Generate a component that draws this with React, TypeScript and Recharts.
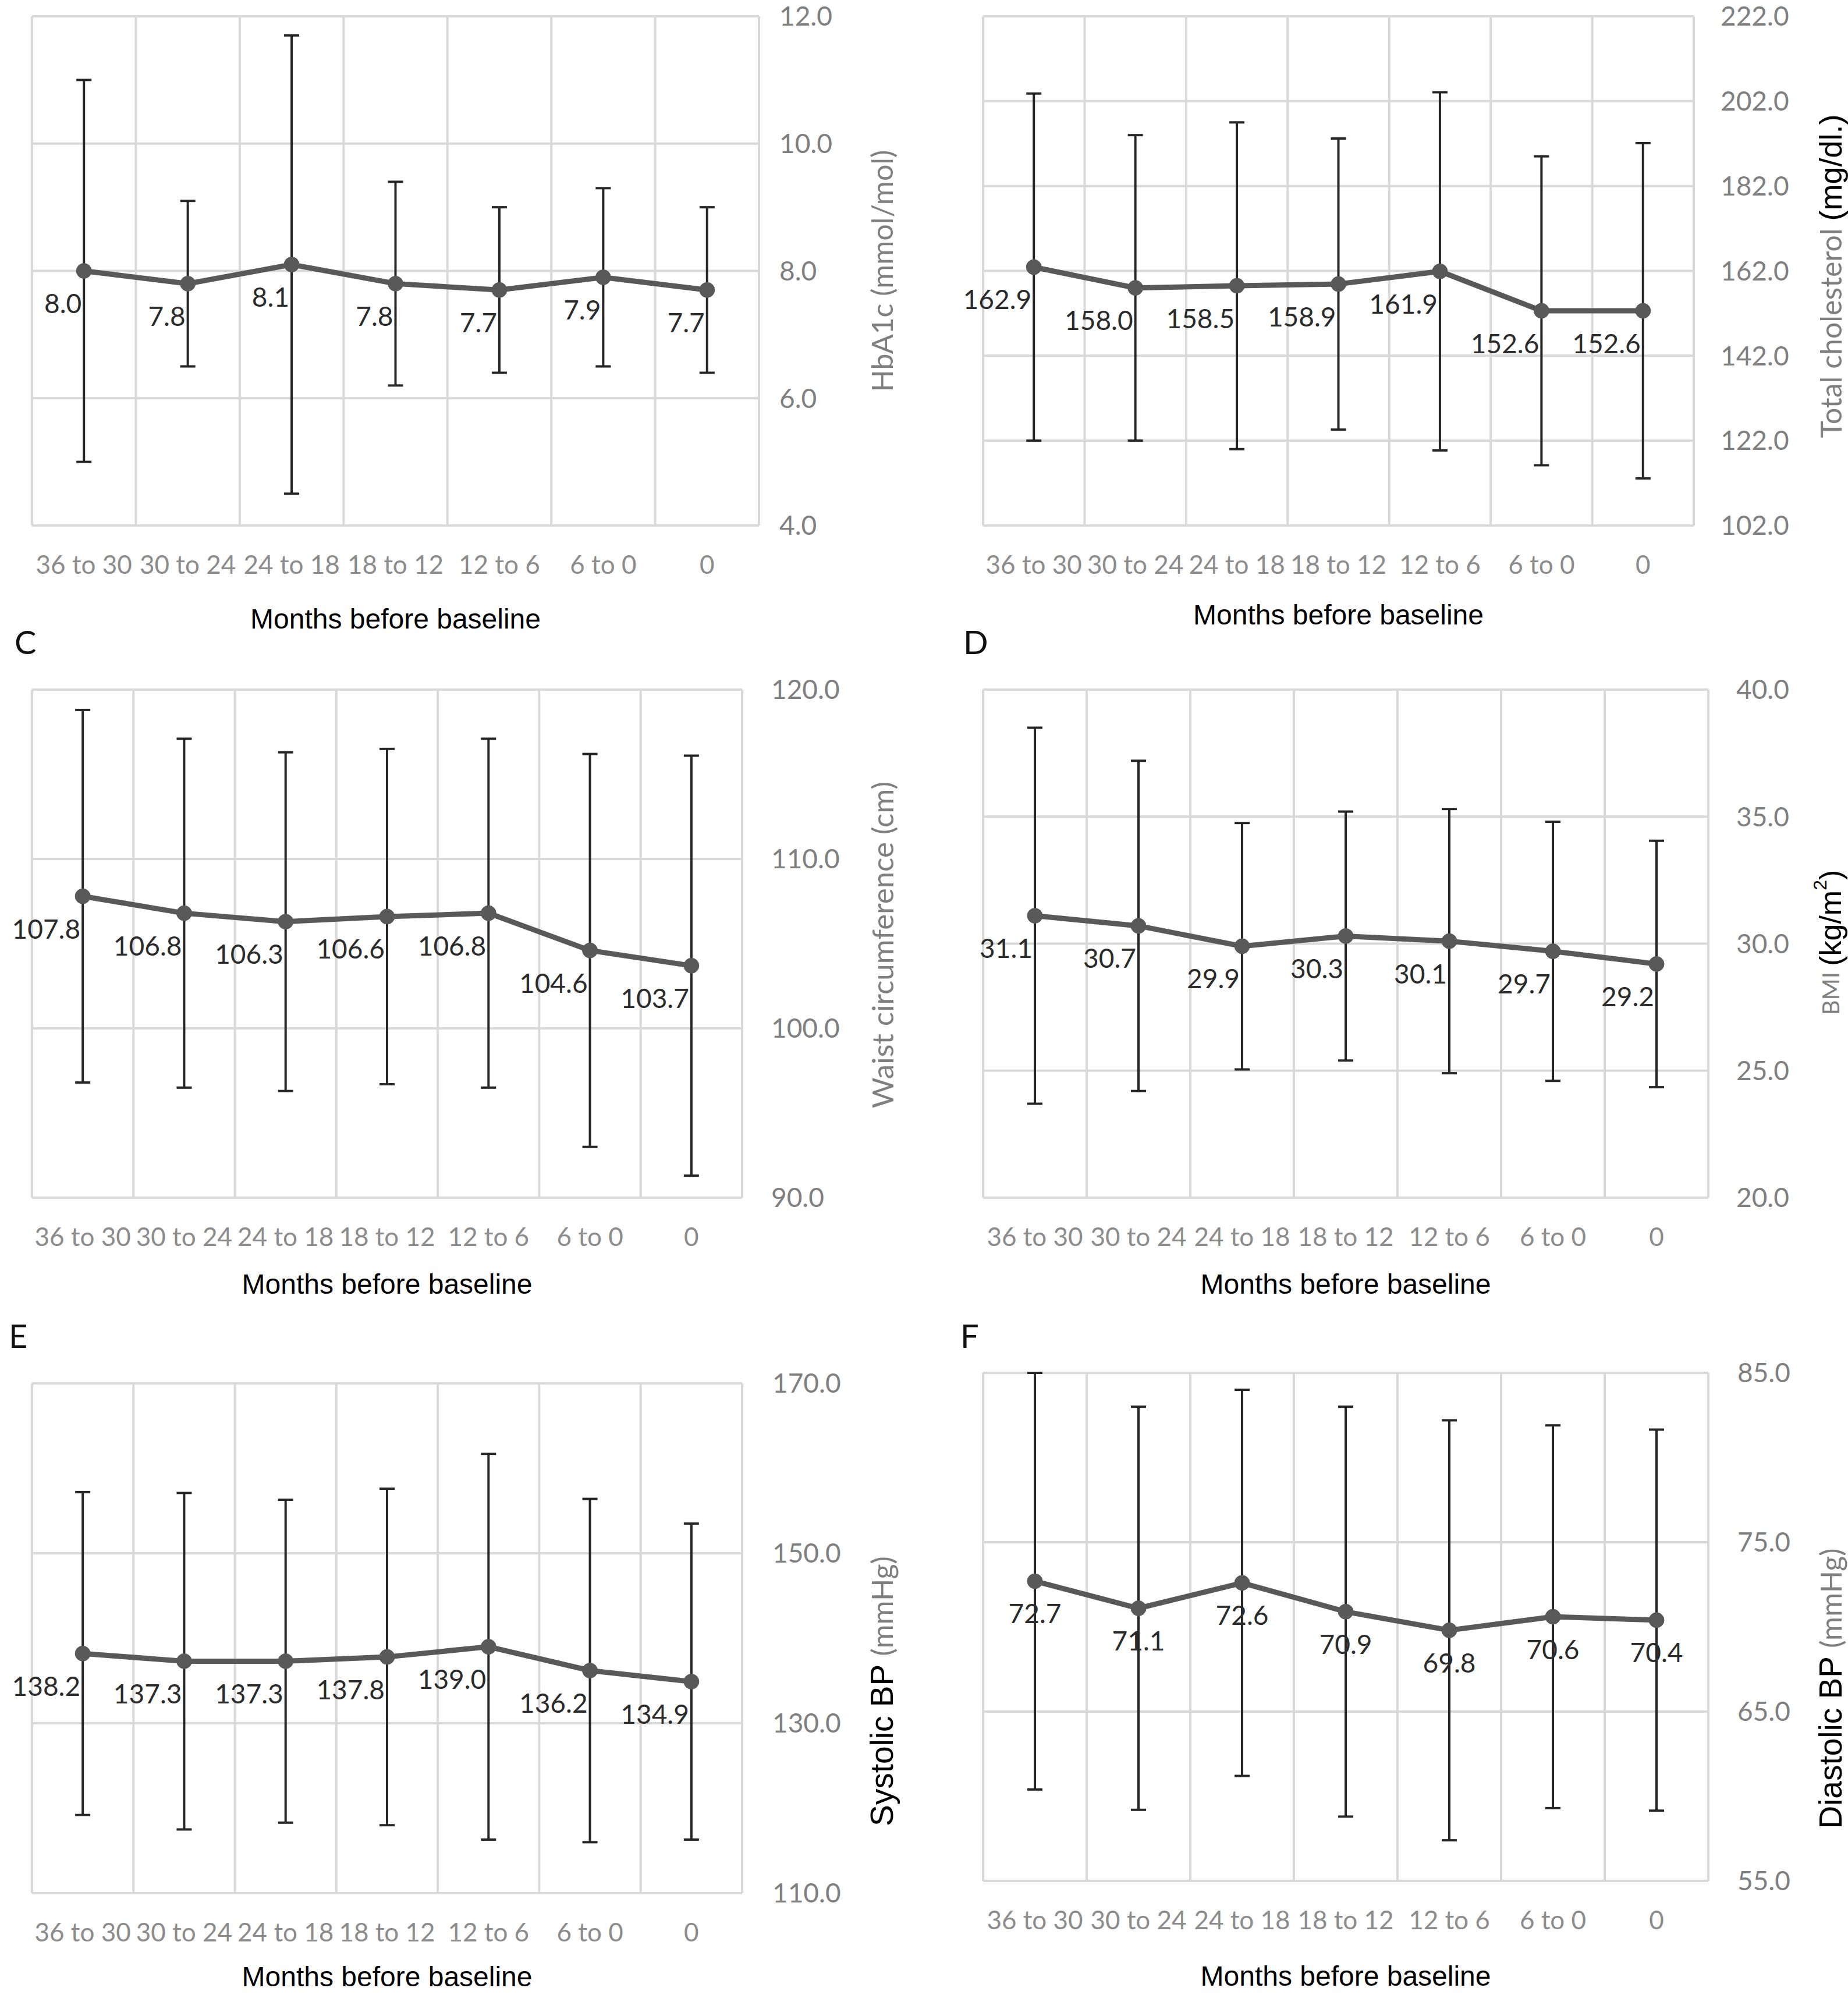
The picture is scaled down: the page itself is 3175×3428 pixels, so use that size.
import React from "react";
import {
  CartesianGrid,
  ErrorBar,
  LabelList,
  Line,
  LineChart,
  XAxis,
  YAxis,
} from "recharts";

const months = ["36 to 30", "30 to 24", "24 to 18", "18 to 12", "12 to 6", "6 to 0", "0"];

const hba1c = [8.0, 7.8, 8.1, 7.8, 7.7, 7.9, 7.7];
const hba1cSd = [3.0, 1.3, 3.6, 1.6, 1.3, 1.4, 1.3];
const hba1cTicks = [4, 6, 8, 10, 12];

const cholesterol = [162.9, 158.0, 158.5, 158.9, 161.9, 152.6, 152.6];
const cholesterolSd = [40.9, 36.0, 38.5, 34.3, 42.2, 36.4, 39.5];
const cholesterolTicks = [102, 122, 142, 162, 182, 202, 222];

const waist = [107.8, 106.8, 106.3, 106.6, 106.8, 104.6, 103.7];
const waistSd = [11.0, 10.3, 10.0, 9.9, 10.3, 11.6, 12.4];
const waistTicks = [90, 100, 110, 120];

const bmi = [31.1, 30.7, 29.9, 30.3, 30.1, 29.7, 29.2];
const bmiSd = [7.4, 6.5, 4.85, 4.9, 5.2, 5.1, 4.85];
const bmiTicks = [20, 25, 30, 35, 40];

const systolic = [138.2, 137.3, 137.3, 137.8, 139.0, 136.2, 134.9];
const systolicSd = [19.0, 19.8, 19.0, 19.8, 22.7, 20.2, 18.6];
const systolicTicks = [110, 130, 150, 170];

const diastolic = [72.7, 71.1, 72.6, 70.9, 69.8, 70.6, 70.4];
const diastolicSd = [12.3, 11.9, 11.4, 12.1, 12.4, 11.3, 11.25];
const diastolicTicks = [55, 65, 75, 85];

const GRAY = "#7f7f7f";
const CAL = "Lato, 'Open Sans', sans-serif";
const HEL = "'Liberation Sans', Arial, sans-serif";

type Part = { text: string; color: string; font: string; size: number; dy?: number };

const gray = (text: string, size = 48): Part => ({ text, color: GRAY, font: CAL, size });
const black = (text: string, size = 54): Part => ({ text, color: "#000", font: HEL, size });

type PanelProps = {
  values: number[];
  sd: number[];
  ticks: number[];
  plot: { left: number; top: number; right: number; bottom: number };
  title: Part[];
  titleDx: number;
  titleDy: number;
  tickGap: number;
  xTitleDy: number;
  centerLabels?: boolean;
};

function Panel({ values, sd, ticks, plot, title, titleDx, titleDy, tickGap, xTitleDy, centerLabels }: PanelProps) {
  const data = months.map((m, i) => ({ month: m, value: values[i], sd: sd[i] }));
  const mTop = 40;
  const mLeft = 70;
  const yw = 280;
  const xh = 190;
  const width = plot.right - plot.left + mLeft + yw;
  const height = plot.bottom - plot.top + mTop + xh;

  return (
    <div style={{ position: "absolute", left: plot.left - mLeft, top: plot.top - mTop }}>
      <LineChart width={width} height={height} data={data} margin={{ top: mTop, left: mLeft, right: 0, bottom: 0 }}>
        <CartesianGrid
          stroke="#d9d9d9"
          strokeWidth={4}
          verticalCoordinatesGenerator={({ offset }: any) =>
            months.concat([""]).map((_, i) => offset.left + (i * offset.width) / months.length)
          }
        />
        <XAxis
          dataKey="month"
          scale="band"
          interval={0}
          axisLine={false}
          tickLine={false}
          tickSize={0}
          tickMargin={52}
          height={xh}
          tick={{ fill: "#8c8c8c", fontSize: 44, fontFamily: CAL }}
          label={(p: any) => {
            const vb = p.viewBox;
            return (
              <text
                x={vb.x + vb.width / 2}
                y={vb.y + xTitleDy}
                textAnchor="middle"
                dominantBaseline="central"
                fontFamily={HEL}
                fontSize={48}
                fill="#000"
              >
                Months before baseline
              </text>
            );
          }}
        />
        <YAxis
          orientation="right"
          domain={[ticks[0], ticks[ticks.length - 1]]}
          ticks={ticks}
          interval={0}
          allowDataOverflow
          axisLine={false}
          tickLine={false}
          tickSize={0}
          tickMargin={tickGap}
          width={yw}
          tickFormatter={(v: number) => v.toFixed(1)}
          tick={{ fill: GRAY, fontSize: 46, fontFamily: CAL }}
          label={(p: any) => {
            const vb = p.viewBox;
            const cx = vb.x + titleDx;
            const cy = vb.y + vb.height / 2 + titleDy;
            return (
              <text
                x={cx}
                y={cy}
                transform={`rotate(-90 ${cx} ${cy})`}
                textAnchor="middle"
                dominantBaseline="central"
              >
                {title.map((t, i) => (
                  <tspan key={i} fill={t.color} fontFamily={t.font} fontSize={t.size} dy={t.dy ?? 0}>
                    {t.text}
                  </tspan>
                ))}
              </text>
            );
          }}
        />
        <Line
          dataKey="value"
          type="linear"
          stroke="#595959"
          strokeWidth={9}
          dot={{ r: 13, fill: "#595959", stroke: "#595959", strokeWidth: 1 }}
          isAnimationActive={false}
        >
          <ErrorBar dataKey="sd" direction="y" width={13} strokeWidth={4} stroke="#262626" />
          <LabelList
            dataKey="value"
            content={(p: any) => (
              <text
                x={centerLabels ? p.x : p.x - 4}
                y={p.y + 55}
                textAnchor={centerLabels ? "middle" : "end"}
                dominantBaseline="central"
                fontFamily={CAL}
                fontSize={46}
                fill="#2b2b2b"
              >
                {Number(p.value).toFixed(1)}
              </text>
            )}
          />
        </Line>
      </LineChart>
    </div>
  );
}

export default function App() {
  return (
    <div style={{ position: "relative", width: 3175, height: 3428, background: "#fff", overflow: "hidden" }}>
      <style>{"body{margin:0}"}</style>
      <Panel
        values={hba1c}
        sd={hba1cSd}
        ticks={hba1cTicks}
        plot={{ left: 55, top: 28, right: 1304, bottom: 903 }}
        title={[gray("HbA1c (mmol/mol)", 50)]}
        titleDx={211}
        titleDy={0}
        tickGap={35}
        xTitleDy={160}
      />
      <Panel
        values={cholesterol}
        sd={cholesterolSd}
        ticks={cholesterolTicks}
        plot={{ left: 1689, top: 28, right: 2910, bottom: 903 }}
        title={[gray("Total cholesterol ", 50), black("(mg/dl.)", 54)]}
        titleDx={235}
        titleDy={9}
        tickGap={46}
        xTitleDy={153}
      />
      <Panel
        values={waist}
        sd={waistSd}
        ticks={waistTicks}
        plot={{ left: 55, top: 1185, right: 1275, bottom: 2058 }}
        title={[gray("Waist circumference (cm)", 51)]}
        titleDx={240}
        titleDy={2}
        tickGap={50}
        xTitleDy={148}
      />
      <Panel
        values={bmi}
        sd={bmiSd}
        ticks={bmiTicks}
        plot={{ left: 1689, top: 1185, right: 2935, bottom: 2058 }}
        title={[
          gray("BMI ", 40),
          black("(kg/m", 52),
          { ...black("2", 32), dy: -18 },
          { ...black(")", 52), dy: 18 },
        ]}
        titleDx={210}
        titleDy={-2}
        tickGap={48}
        xTitleDy={148}
      />
      <Panel
        values={systolic}
        sd={systolicSd}
        ticks={systolicTicks}
        plot={{ left: 55, top: 2377, right: 1275, bottom: 3253 }}
        title={[black("Systolic BP ", 55), gray("(mmHg)", 50)]}
        titleDx={240}
        titleDy={91}
        tickGap={52}
        xTitleDy={143}
      />
      <Panel
        values={diastolic}
        sd={diastolicSd}
        ticks={diastolicTicks}
        plot={{ left: 1689, top: 2359, right: 2935, bottom: 3232 }}
        title={[black("Diastolic BP ", 55), gray("(mmHg)", 50)]}
        titleDx={210}
        titleDy={106}
        tickGap={50}
        xTitleDy={163}
        centerLabels
      />
      <svg width={3175} height={3428} style={{ position: "absolute", left: 0, top: 0, pointerEvents: "none" }}>
        <g fontFamily={CAL} fontSize={56} fill="#111">
          <text x={25} y={1124}>C</text>
          <text x={1655} y={1124}>D</text>
          <text x={15} y={2316}>E</text>
          <text x={1650} y={2316}>F</text>
        </g>
      </svg>
    </div>
  );
}
